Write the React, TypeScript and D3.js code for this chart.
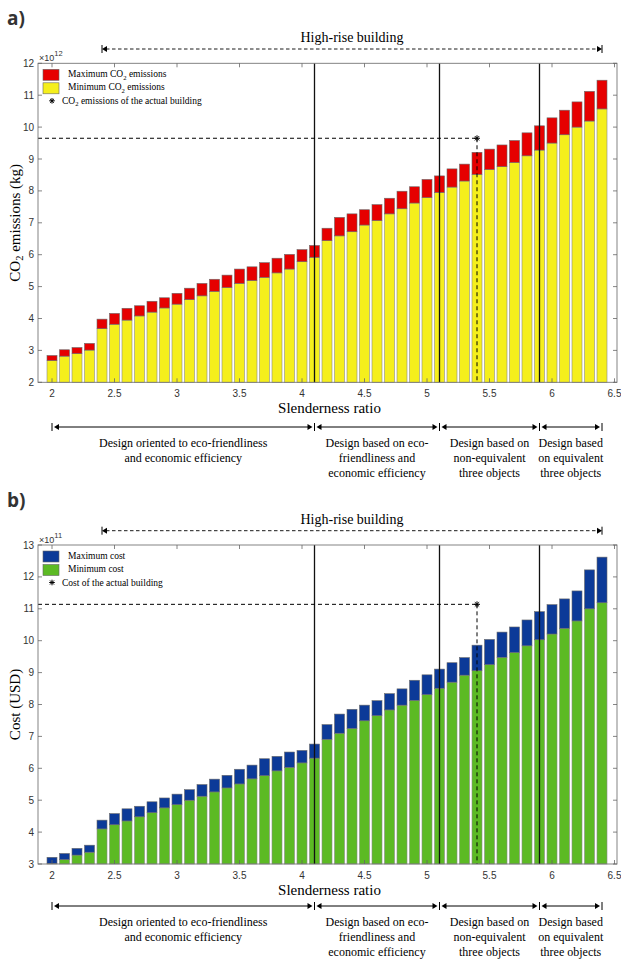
import React from "react";
import * as d3 from "d3";

const slenderness = [
  2.0, 2.1, 2.2, 2.3, 2.4, 2.5, 2.6, 2.7, 2.8, 2.9,
  3.0, 3.1, 3.2, 3.3, 3.4, 3.5, 3.6, 3.7, 3.8, 3.9,
  4.0, 4.1, 4.2, 4.3, 4.4, 4.5, 4.6, 4.7, 4.8, 4.9,
  5.0, 5.1, 5.2, 5.3, 5.4, 5.5, 5.6, 5.7, 5.8, 5.9,
  6.0, 6.1, 6.2, 6.3, 6.4,
];

const co2Min = [
  2.68, 2.82, 2.9, 3.01, 3.68, 3.82, 3.95, 4.08, 4.2, 4.33,
  4.45, 4.59, 4.71, 4.85, 4.97, 5.1, 5.19, 5.29, 5.43, 5.55,
  5.78, 5.92, 6.44, 6.59, 6.72, 6.93, 7.07, 7.28, 7.44, 7.62,
  7.79, 7.95, 8.12, 8.31, 8.52, 8.67, 8.76, 8.89, 9.1, 9.28,
  9.5, 9.76, 10.0, 10.19, 10.57,
];
const co2Max = [
  2.84, 3.02, 3.09, 3.22, 3.98, 4.16, 4.32, 4.4, 4.54, 4.65,
  4.79, 4.95, 5.1, 5.23, 5.36, 5.55, 5.62, 5.75, 5.89, 6.01,
  6.16, 6.29, 6.83, 7.17, 7.28, 7.41, 7.57, 7.77, 7.99, 8.13,
  8.36, 8.47, 8.69, 8.84, 9.21, 9.31, 9.44, 9.58, 9.82, 10.04,
  10.29, 10.53, 10.79, 11.12, 11.47,
];
const costMin = [
  3.02, 3.14, 3.28, 3.37, 4.1, 4.23, 4.35, 4.48, 4.61, 4.76,
  4.86, 5.0, 5.125, 5.26, 5.385, 5.51, 5.67, 5.77, 5.92, 6.03,
  6.17, 6.32, 6.91, 7.1, 7.25, 7.49, 7.65, 7.83, 7.98, 8.13,
  8.31, 8.51, 8.7, 8.92, 9.06, 9.25, 9.48, 9.63, 9.84, 10.03,
  10.21, 10.39, 10.62, 11.0, 11.19,
];
const costMax = [
  3.21, 3.33, 3.49, 3.59, 4.375, 4.58, 4.73, 4.81, 4.95, 5.07,
  5.19, 5.33, 5.49, 5.66, 5.78, 5.97, 6.1, 6.3, 6.375, 6.51,
  6.56, 6.76, 7.37, 7.7, 7.85, 7.98, 8.12, 8.34, 8.49, 8.76,
  8.93, 9.11, 9.31, 9.47, 9.86, 10.04, 10.27, 10.43, 10.65, 10.91,
  11.13, 11.31, 11.56, 12.22, 12.62,
];

const xTicks = [2, 2.5, 3, 3.5, 4, 4.5, 5, 5.5, 6, 6.5];
const xTickLabels = ["2", "2.5", "3", "3.5", "4", "4.5", "5", "5.5", "6", "6.5"];
const co2Ticks = [2, 3, 4, 5, 6, 7, 8, 9, 10, 11, 12];
const costTicks = [3, 4, 5, 6, 7, 8, 9, 10, 11, 12, 13];
const dividers = [4.1, 5.1, 5.9];
const highRise = [2.4, 6.4];
const actualX = 5.4;
const actualCo2 = 9.65;
const actualCost = 11.14;
const segmentBounds = [2.0, 4.1, 5.1, 5.9, 6.4];
const segmentTexts = [
  ["Design oriented to eco-friendliness", "and economic efficiency"],
  ["Design based on eco-", "friendliness and", "economic efficiency"],
  ["Design based on", "non-equivalent", "three objects"],
  ["Design based", "on equivalent", "three objects"],
];

const SERIF = "'Liberation Serif', 'DejaVu Serif', serif";
const SANS = "'Liberation Sans', Arial, sans-serif";

const x = d3.scaleLinear().domain([1.888, 6.52]).range([38, 617]);
const BW = x(2.08) - x(2.0);

function Asterisk({ cx, cy, r = 3 }: { cx: number; cy: number; r?: number }) {
  const d = r * 0.72;
  return (
    <path
      d={`M${cx - r},${cy}H${cx + r}M${cx},${cy - r}V${cy + r}M${cx - d},${cy - d}L${cx + d},${cy + d}M${cx - d},${cy + d}L${cx + d},${cy - d}`}
      stroke="#000"
      strokeWidth={1}
    />
  );
}

function ArrowHead({ tipX, y, dir }: { tipX: number; y: number; dir: number }) {
  const L = 5;
  return <path d={`M${tipX},${y}L${tipX - dir * L},${y - 3}L${tipX - dir * L},${y + 3}Z`} fill="#000" />;
}

type PanelProps = {
  oy: number;
  segY: number;
  label: string;
  domain: [number, number];
  ticks: number[];
  minVals: number[];
  maxVals: number[];
  minColor: string;
  maxColor: string;
  exponent: string;
  yTitle: React.ReactNode;
  legend: React.ReactNode[];
  actual: number;
};

function Panel(p: PanelProps) {
  const top = 63.3 + p.oy;
  const bottom = 382.3 + p.oy;
  const y = d3.scaleLinear().domain(p.domain).range([bottom, top]);
  const left = x.range()[0];
  const right = x.range()[1];
  const arrowY = 49 + p.oy;
  const segY = p.segY;
  return (
    <g>
      <text x={7} y={25 + p.oy} fontFamily="'Open Sans', sans-serif" fontWeight={700} fontSize={19} fill="#333">
        {p.label}
      </text>
      <text x={x((highRise[0] + highRise[1]) / 2)} y={42 + p.oy} textAnchor="middle" fontFamily={SERIF} fontSize={14}>
        High-rise building
      </text>
      <line x1={x(highRise[0]) + 4} x2={x(highRise[1]) - 4} y1={arrowY} y2={arrowY} stroke="#000" strokeWidth={0.9} strokeDasharray="3.5,2.5" />
      <ArrowHead tipX={x(highRise[0])} y={arrowY} dir={-1} />
      <ArrowHead tipX={x(highRise[1])} y={arrowY} dir={1} />
      <line x1={x(highRise[0])} x2={x(highRise[0])} y1={arrowY - 4} y2={arrowY + 4} stroke="#000" strokeWidth={1} />
      <line x1={x(highRise[1])} x2={x(highRise[1])} y1={arrowY - 4} y2={arrowY + 4} stroke="#000" strokeWidth={1} />

      {slenderness.map((s, i) => (
        <g key={i}>
          <rect x={x(s) - BW / 2} y={y(p.minVals[i])} width={BW} height={bottom - y(p.minVals[i])} fill={p.minColor} stroke="#8a8a8a" strokeWidth={0.6} />
          <rect x={x(s) - BW / 2} y={y(p.maxVals[i])} width={BW} height={y(p.minVals[i]) - y(p.maxVals[i])} fill={p.maxColor} stroke="#6a6a6a" strokeWidth={0.6} />
        </g>
      ))}

      {dividers.map((d, i) => (
        <line key={i} x1={x(d)} x2={x(d)} y1={top} y2={bottom} stroke="#111" strokeWidth={1.3} />
      ))}

      <line x1={left} x2={x(actualX)} y1={y(p.actual)} y2={y(p.actual)} stroke="#000" strokeWidth={1} strokeDasharray="4,3" />
      <line x1={x(actualX)} x2={x(actualX)} y1={y(p.actual)} y2={bottom} stroke="#000" strokeWidth={1} strokeDasharray="4,3" />
      <Asterisk cx={x(actualX)} cy={y(p.actual)} />

      <rect x={left} y={top} width={right - left} height={bottom - top} fill="none" stroke="#777" strokeWidth={0.9} />
      {p.ticks.map((t, i) => (
        <g key={i}>
          <line x1={left} x2={left + 4} y1={y(t)} y2={y(t)} stroke="#666" strokeWidth={0.8} />
          <line x1={right} x2={right - 4} y1={y(t)} y2={y(t)} stroke="#666" strokeWidth={0.8} />
          <text x={left - 4} y={y(t) + 3.5} textAnchor="end" fontFamily={SANS} fontSize={10} fill="#333">
            {t}
          </text>
        </g>
      ))}
      {xTicks.map((t, i) => (
        <g key={i}>
          <line x1={x(t)} x2={x(t)} y1={bottom} y2={bottom - 4} stroke="#666" strokeWidth={0.8} />
          <line x1={x(t)} x2={x(t)} y1={top} y2={top + 4} stroke="#666" strokeWidth={0.8} />
          <text x={x(t)} y={bottom + 14.5} textAnchor="middle" fontFamily={SANS} fontSize={10} fill="#333">
            {xTickLabels[i]}
          </text>
        </g>
      ))}
      <text x={left + 1} y={top - 2.5} fontFamily={SANS} fontSize={9} fill="#333">
        ×10
        <tspan dy={-5} fontSize={7.5}>
          {p.exponent}
        </tspan>
      </text>

      <rect x={43} y={top + 6} width={16} height={11} fill={p.maxColor} stroke="#666" strokeWidth={0.6} />
      <rect x={43} y={top + 19.5} width={16} height={11} fill={p.minColor} stroke="#666" strokeWidth={0.6} />
      <Asterisk cx={52} cy={top + 37.5} r={2.8} />
      <text x={68} y={top + 14} fontFamily={SERIF} fontSize={9.5}>
        {p.legend[0]}
      </text>
      <text x={68} y={top + 27} fontFamily={SERIF} fontSize={9.5}>
        {p.legend[1]}
      </text>
      <text x={62} y={top + 40.5} fontFamily={SERIF} fontSize={9.5}>
        {p.legend[2]}
      </text>

      <text transform={`translate(20,${(top + bottom) / 2}) rotate(-90)`} textAnchor="middle" fontFamily={SERIF} fontSize={15}>
        {p.yTitle}
      </text>
      <text x={(left + right) / 2 + 2} y={413 + p.oy} textAnchor="middle" fontFamily={SERIF} fontSize={15}>
        Slenderness ratio
      </text>

      {segmentBounds.slice(0, -1).map((b, i) => {
        const x0 = x(b) + 2;
        const x1 = x(segmentBounds[i + 1]) - 2;
        return (
          <g key={i}>
            <line x1={x0 + 3} x2={x1 - 3} y1={segY} y2={segY} stroke="#000" strokeWidth={1} />
            <ArrowHead tipX={x0} y={segY} dir={-1} />
            <ArrowHead tipX={x1} y={segY} dir={1} />
            {segmentTexts[i].map((t, j) => (
              <text key={j} x={(x0 + x1) / 2} y={segY + 19.5 + j * 15} textAnchor="middle" fontFamily={SERIF} fontSize={12}>
                {t}
              </text>
            ))}
          </g>
        );
      })}
      {segmentBounds.map((b, i) => (
        <line key={i} x1={x(b)} x2={x(b)} y1={segY - 4} y2={segY + 4} stroke="#000" strokeWidth={1} />
      ))}
    </g>
  );
}

const co2Sub = (pre: string, post: string) => (
  <>
    {pre}CO
    <tspan dy={2.5} fontSize="0.7em">2</tspan>
    <tspan dy={-2.5}>{post}</tspan>
  </>
);

export default function App() {
  return (
    <div style={{ position: "absolute", left: 0, top: 0 }}>
      <svg width={621} height={960} style={{ display: "block", background: "#fff" }}>
        <Panel
          oy={0}
          segY={427}
          label="a)"
          domain={[2, 12]}
          ticks={co2Ticks}
          minVals={co2Min}
          maxVals={co2Max}
          minColor="#f5ef1c"
          maxColor="#e60000"
          exponent="12"
          yTitle={co2Sub("", " emissions (kg)")}
          legend={[co2Sub("Maximum ", " emissions"), co2Sub("Minimum ", " emissions"), co2Sub("", " emissions of the actual building")]}
          actual={actualCo2}
        />
        <Panel
          oy={481.7}
          segY={906}
          label="b)"
          domain={[3, 13]}
          ticks={costTicks}
          minVals={costMin}
          maxVals={costMax}
          minColor="#5cba24"
          maxColor="#0c3a98"
          exponent="11"
          yTitle={"Cost (USD)"}
          legend={["Maximum cost", "Minimum cost", "Cost of the actual building"]}
          actual={actualCost}
        />
      </svg>
    </div>
  );
}
